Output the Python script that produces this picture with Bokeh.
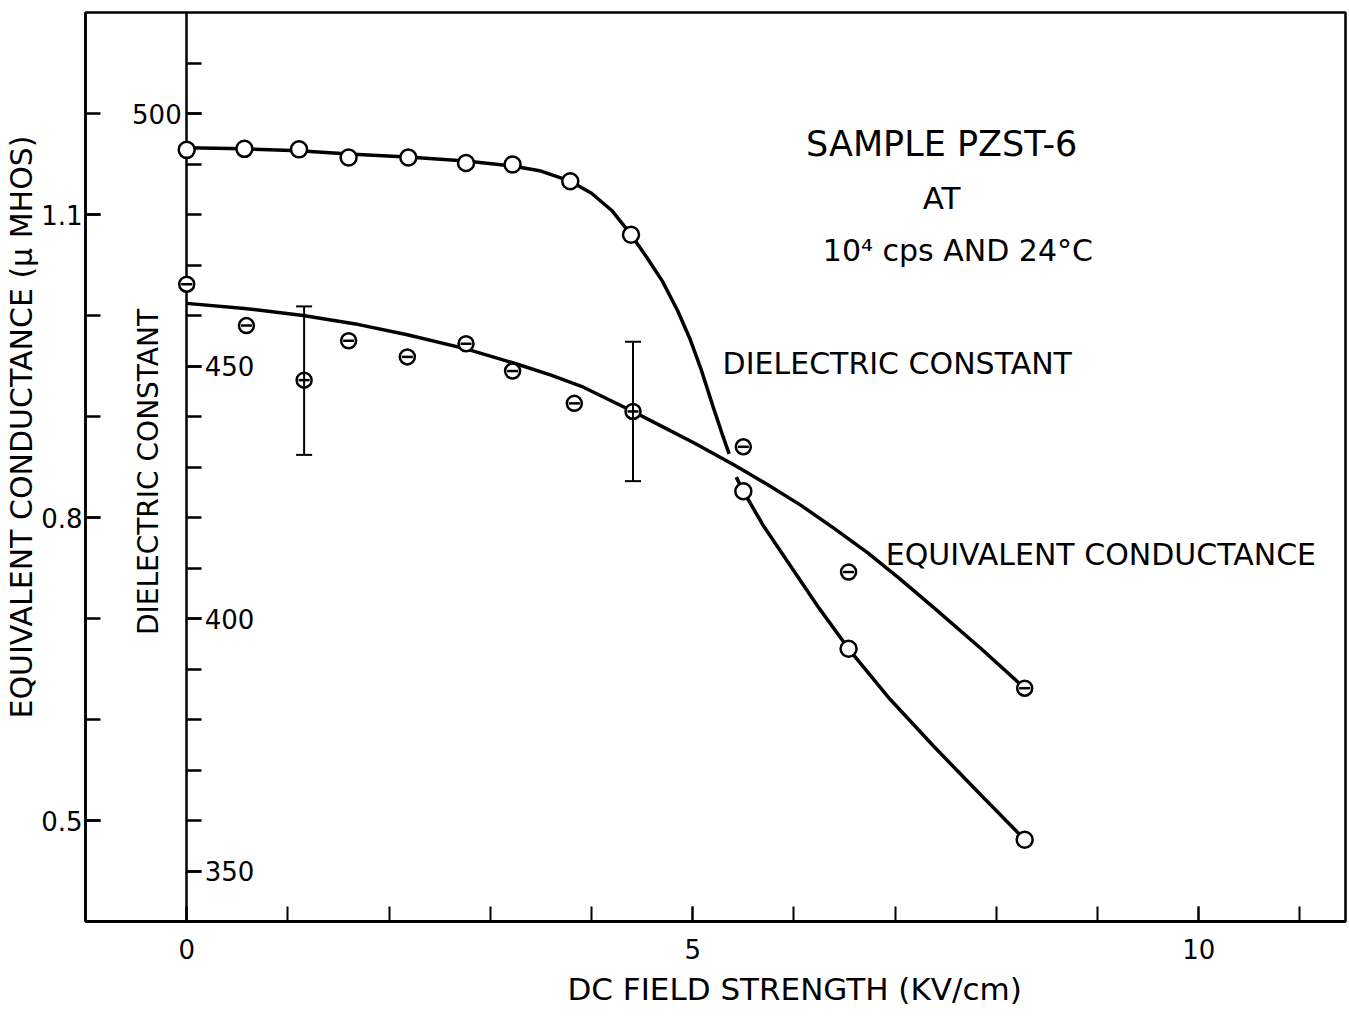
import math
from bokeh.plotting import figure
from bokeh.models import (Range1d, LinearAxis, FixedTicker, Label, ColumnDataSource,
                          Whisker, TeeHead, Title)
from bokeh.embed import file_html
from bokeh.resources import INLINE

FONT = "DejaVu Sans"

# ---------------- data ----------------
# measured dielectric constant (open circles)
field_diel = [0.0, 0.57, 1.11, 1.60, 2.19, 2.76, 3.22, 3.79, 4.39, 5.50, 6.54, 8.28]
diel = [492.8, 493.0, 492.9, 491.3, 491.3, 490.2, 489.9, 486.6, 476.0, 425.2, 394.0, 356.2]

# measured equivalent conductance (circle with bar), micro-mhos
field_cond = [0.0, 0.59, 1.16, 1.60, 2.18, 2.76, 3.22, 3.83, 4.41, 5.50, 6.54, 8.28]
cond = [1.031, 0.990, 0.936, 0.975, 0.959, 0.972, 0.945, 0.913, 0.905, 0.870, 0.746, 0.631]

# error bars on conductance
err_field = [1.16, 4.41]
err_upper = [1.009, 0.974]
err_lower = [0.862, 0.836]

# hand-drawn smooth curve through the dielectric constant (broken where it crosses)
diel_curve1_x = [0.0, 0.57, 1.11, 1.60, 2.18, 2.76, 3.22, 3.50, 3.79, 4.00, 4.20, 4.39,
                 4.55, 4.70, 4.85, 4.97, 5.08, 5.20, 5.30, 5.36]
diel_curve1_y = [493.2, 493.0, 492.6, 492.0, 491.4, 490.6, 489.6, 488.6, 486.6, 484.2, 480.8, 476.0,
                 471.4, 466.8, 461.0, 455.5, 449.5, 442.0, 436.0, 432.6]
diel_curve2_x = [5.43, 5.50, 5.70, 5.97, 6.25, 6.54, 6.95, 7.39, 7.85, 8.28]
diel_curve2_y = [428.0, 425.2, 418.3, 410.3, 402.0, 394.0, 384.0, 374.5, 365.0, 356.2]

# hand-drawn smooth curve through the conductance
cond_curve_x = [0.0, 0.57, 1.15, 1.70, 2.18, 2.76, 3.26, 3.60, 3.92, 4.41, 4.70, 5.01, 5.41,
                5.75, 6.07, 6.40, 6.73, 7.05, 7.39, 7.85, 8.28]
cond_curve_y = [1.012, 1.007, 1.000, 0.991, 0.981, 0.967, 0.952, 0.941, 0.929, 0.905, 0.890, 0.874,
                0.852, 0.832, 0.812, 0.789, 0.765, 0.739, 0.710, 0.670, 0.631]

# axis ticks
x_major = [0, 5, 10]
x_minor = [0, 1, 2, 3, 4, 5, 6, 7, 8, 9, 10, 11]
cond_major = [0.5, 0.8, 1.1]
cond_minor = [0.5, 0.6, 0.7, 0.8, 0.9, 1.0, 1.1, 1.2]
diel_major = [350, 400, 450, 500]
diel_minor = [350, 360, 370, 380, 390, 400, 410, 420, 430, 440, 450, 460, 470, 480, 490, 500, 510]

# ---------------- figure ----------------
p = figure(width=1349, height=1021, output_backend="svg", toolbar_location=None,
           x_range=Range1d(-1.0, 11.45), y_range=Range1d(0.4, 1.3),
           min_border_left=85, min_border_right=4, min_border_top=12, min_border_bottom=100)
p.extra_y_ranges = {"diel": Range1d(340, 520)}
p.grid.visible = False
p.background_fill_color = "white"
p.border_fill_color = "white"
p.outline_line_color = "black"
p.outline_line_width = 2.5
p.outline_line_alpha = 1.0

# x axis
xa = p.xaxis[0]
xa.ticker = FixedTicker(ticks=x_major, minor_ticks=x_minor)
xa.major_tick_in = 15
xa.major_tick_out = 0
xa.minor_tick_in = 15
xa.minor_tick_out = 0
xa.axis_line_width = 3
xa.major_tick_line_width = 2
xa.minor_tick_line_width = 2
xa.major_label_text_font = FONT
xa.major_label_text_font_size = "26px"
xa.major_label_text_color = "black"
xa.major_label_standoff = 17

# outer left axis: conductance
ya = p.yaxis[0]
ya.ticker = FixedTicker(ticks=cond_major, minor_ticks=cond_minor)
ya.major_tick_in = 15
ya.major_tick_out = 0
ya.minor_tick_in = 15
ya.minor_tick_out = 0
ya.axis_line_width = 2.5
ya.major_tick_line_width = 2.5
ya.minor_tick_line_width = 2.5
ya.major_label_text_font = FONT
ya.major_label_text_font_size = "26px"
ya.major_label_text_color = "black"
ya.major_label_standoff = 3

# inner axis at x = 0: dielectric constant (labels to the right)
da = LinearAxis(y_range_name="diel", fixed_location=0,
                ticker=FixedTicker(ticks=diel_major, minor_ticks=diel_minor),
                major_label_overrides={500: ""}, level="underlay")
da.major_tick_in = 0
da.major_tick_out = 15
da.minor_tick_in = 0
da.minor_tick_out = 15
da.axis_line_width = 2.5
da.major_tick_line_width = 2.5
da.minor_tick_line_width = 2.5
da.major_label_text_font = FONT
da.major_label_text_font_size = "26px"
da.major_label_text_color = "black"
da.major_label_standoff = 3
p.add_layout(da, "right")

# "500" label sits on the left of the inner axis
da2 = LinearAxis(y_range_name="diel", fixed_location=0, ticker=FixedTicker(ticks=[500]))
da2.major_tick_in = 0
da2.major_tick_out = 0
da2.axis_line_color = None
da2.major_label_text_font = FONT
da2.major_label_text_font_size = "26px"
da2.major_label_text_color = "black"
da2.major_label_standoff = 5
p.add_layout(da2, "left")

# outer titles
p.add_layout(Title(text="DC FIELD STRENGTH (KV/cm)", align="left", offset=482,
                   text_font=FONT, text_font_size="31px", text_font_style="normal",
                   text_color="black", standoff=15), "below")
p.add_layout(Title(text="EQUIVALENT CONDUCTANCE (\u03bc MHOS)", align="left", offset=203,
                   text_font=FONT, text_font_size="30px", text_font_style="normal",
                   text_color="black", standoff=0), "left")

# ---------------- curves ----------------
p.line(diel_curve1_x, diel_curve1_y, y_range_name="diel", line_color="black", line_width=3.5)
p.line(diel_curve2_x, diel_curve2_y, y_range_name="diel", line_color="black", line_width=3.5)
p.line(cond_curve_x, cond_curve_y, line_color="black", line_width=3.5)

# error bars
err_src = ColumnDataSource(dict(base=err_field, upper=err_upper, lower=err_lower))
p.add_layout(Whisker(source=err_src, base="base", upper="upper", lower="lower",
                     dimension="height", line_color="black", line_width=2,
                     upper_head=TeeHead(size=16, line_width=2, line_color="black"),
                     lower_head=TeeHead(size=16, line_width=2, line_color="black"),
                     level="glyph"))

# markers
p.scatter(field_diel, diel, y_range_name="diel", marker="circle", size=16,
          fill_color="white", line_color="black", line_width=2.5)
p.scatter(field_cond, cond, marker="circle", size=15,
          fill_color="white", line_color="black", line_width=2.5)
p.scatter(field_cond, cond, marker="dash", size=11, line_color="black", line_width=2.5)

# ---------------- texts inside the frame ----------------
def lab(x, y, text, size, align="center", angle=0.0):
    p.add_layout(Label(x=x, y=y, text=text, text_font=FONT, text_font_size=size,
                       text_color="black", text_align=align, text_baseline="middle",
                       angle=angle))

lab(7.46, 1.170, "SAMPLE PZST-6", "35px")
lab(7.46, 1.116, "AT", "31px")
lab(7.62, 1.064, "10\u2074 cps AND 24\u00b0C", "30px")
lab(5.295, 0.952, "DIELECTRIC CONSTANT", "30px", align="left")
lab(6.907, 0.763, "EQUIVALENT CONDUCTANCE", "30px", align="left")
lab(-0.373, 0.845, "DIELECTRIC CONSTANT", "28px", angle=math.pi / 2)

open("out.html", "w").write(file_html(p, INLINE))
